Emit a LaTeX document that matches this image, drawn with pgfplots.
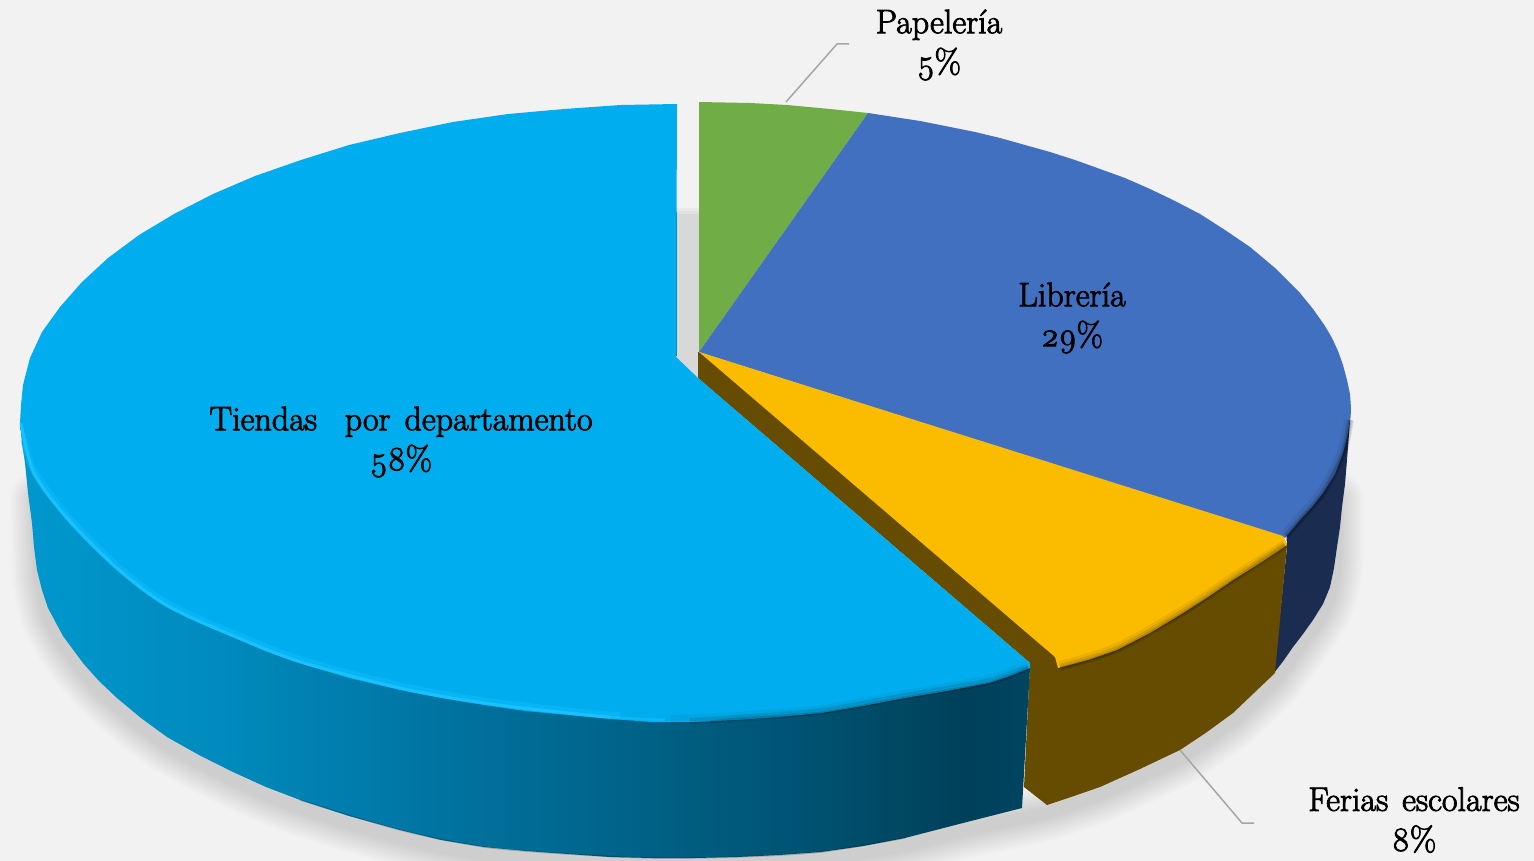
\documentclass[border=0pt]{standalone}
\usepackage{fontspec}
\setmainfont{Latin Modern Roman}[Numbers=OldStyle,FakeBold=2.5,WordSpace=1.35]
\usepackage{pgfplots}
\pgfplotsset{compat=1.18}
\definecolor{bgc}{HTML}{F2F2F2}
\definecolor{topblue}{HTML}{00AEEF}
\definecolor{bright}{HTML}{18C2FF}
\definecolor{lib}{HTML}{4270C0}
\definecolor{navy}{HTML}{1A2C50}
\definecolor{yel}{HTML}{FBBC00}
\definecolor{brown}{HTML}{654C00}
\definecolor{grn}{HTML}{70AD47}
\definecolor{gapc}{HTML}{D8D8D8}
\definecolor{leader}{HTML}{A6A6A6}
\definecolor{sa}{HTML}{0098CE}
\definecolor{sb}{HTML}{008ABD}
\definecolor{sc}{HTML}{0075A3}
\definecolor{sd}{HTML}{006389}
\definecolor{se}{HTML}{00506F}
\definecolor{sf}{HTML}{004059}
\definecolor{sg}{HTML}{004563}
\definecolor{edge}{HTML}{008FC4}
\pgfdeclarehorizontalshading{blueside}{100bp}{
 color(0bp)=(sa);
 color(25bp)=(sa);
 color(35bp)=(sb);
 color(45bp)=(sc);
 color(55bp)=(sd);
 color(65bp)=(se);
 color(72bp)=(sf);
 color(75bp)=(sg);
 color(100bp)=(sg)}
\pgfplotstableread{
x y
38 500
40 578
48 616
63 644
83 671
99 689
117 706
141 726
167 745
199 763
233 780
266 795
300 808
349 824
400 838
441 848
484 855
526 859
568 862
610 865
652 866
695 866
737 865
779 863
821 860
863 854
905 846
963 831
1047 813
1074 804
1100 795
1140 777
1180 758
1207 740
1233 721
1254 701
1275 681
1293 655
1313 628
1323 612
1330 595
1334 576
1336 555
1336 500
700 400
}\shadowdata
\pgfplotsset{shadowlayer/.style={draw=black,fill=none,draw opacity=0.012,line width=#1,line join=round}}
\begin{document}
\begin{tikzpicture}
\begin{axis}[
 width=1534pt,height=861pt,scale only axis,
 xmin=0,xmax=1534,ymin=0,ymax=861,y dir=reverse,
 axis lines=none,no markers,clip=true,
 axis background/.style={fill=bgc},
 every axis plot/.append style={line join=round},
]
% soft shadow
\addplot[shadowlayer=56pt] table {\shadowdata} --cycle;
\addplot[shadowlayer=52pt] table {\shadowdata} --cycle;
\addplot[shadowlayer=48pt] table {\shadowdata} --cycle;
\addplot[shadowlayer=44pt] table {\shadowdata} --cycle;
\addplot[shadowlayer=40pt] table {\shadowdata} --cycle;
\addplot[shadowlayer=36pt] table {\shadowdata} --cycle;
\addplot[shadowlayer=32pt] table {\shadowdata} --cycle;
\addplot[shadowlayer=28pt] table {\shadowdata} --cycle;
\addplot[shadowlayer=24pt] table {\shadowdata} --cycle;
\addplot[shadowlayer=20pt] table {\shadowdata} --cycle;
\addplot[shadowlayer=16pt] table {\shadowdata} --cycle;
\addplot[shadowlayer=12pt] table {\shadowdata} --cycle;
% gap between the exploded slice and the rest
\addplot[fill=gapc,draw=none] coordinates {(676,214)(700,214)(700,380)(676,360)} --cycle;
\addplot[fill=gapc!66!bgc,draw=none] coordinates {(676,211)(700,211)(700,214)(676,214)} --cycle;
\addplot[fill=gapc!33!bgc,draw=none] coordinates {(676,208)(700,208)(700,211)(676,211)} --cycle;
% side faces
\addplot[fill=navy,draw=none] coordinates {(1351,408)(1349,434)(1347,460)(1345,484)(1342,507)(1340,527)(1337,547)(1334,568)(1330,587)(1323,604)(1313,620)(1303,634)(1293,647)(1284,660)(1274,673)(1287,547)(1285,500)} --cycle;
\addplot[fill=brown,draw=none] coordinates {(698,378)(698,352)(1283,537)(1287,545)(1275,673)(1254,693)(1233,713)(1207,732)(1180,750)(1140,769)(1100,787)(1074,796)(1047,805)(1024,787)(1030,663)} --cycle;
\addplot[shading=blueside,draw=none] coordinates {(20,423)(22,443)(25,463)(28,493)(32,523)(34,547)(37,570)(42,590)(48,608)(63,636)(83,663)(99,681)(117,698)(141,718)(167,737)(199,755)(233,772)(266,787)(300,800)(349,816)(400,830)(441,840)(484,847)(526,851)(568,854)(610,857)(652,858)(695,858)(737,857)(779,855)(821,852)(863,846)(905,838)(963,823)(1022,808)(1030,668)(400,500)} --cycle;
\addplot[black,opacity=0.18,line width=1.5pt,smooth] coordinates {(300,800)(400,830)(484,847)(568,854)(652,858)(737,857)(821,852)(905,838)};
% top faces
\addplot[fill=grn,draw=none] coordinates {(699,102)(750,103)(787,105)(830,109)(868,113)(699,352)} --cycle;
\addplot[fill=lib,draw=none] coordinates {(868,113)(894,117)(920,121)(950,127)(975,132)(1000,138)(1025,145)(1050,152)(1075,160)(1100,169)(1125,178)(1150,189)(1175,201)(1200,214)(1225,230)(1250,247)(1275,268)(1300,293)(1313,309)(1325,326)(1332,338)(1338,351)(1343,365)(1347,380)(1350,394)(1351,408)(1350,420)(1347,437)(1343,453)(1335,474)(1323,493)(1312,507)(1300,520)(1285,538)(1283,537)(699,352)} --cycle;
\addplot[fill=yel,draw=none] coordinates {(699,352)(1283,536)(1287,545)(1260,563)(1233,580)(1208,597)(1183,613)(1150,633)(1117,650)(1088,660)(1058,668)(1055,657)} --cycle;
\addplot[fill=topblue,draw=none] coordinates {(677,104)(621,105)(564,109)(508,114)(453,122)(400,133)(349,145)(301,160)(255,176)(213,194)(174,214)(139,235)(108,258)(82,282)(60,307)(42,332)(30,358)(23,385)(21,405)(20,423)(24,450)(33,473)(48,497)(67,520)(91,546)(117,570)(141,590)(167,607)(199,623)(233,637)(265,651)(300,663)(349,678)(400,690)(441,698)(484,705)(525,711)(568,715)(610,719)(652,722)(695,722)(737,720)(779,717)(821,713)(863,706)(905,698)(947,691)(989,683)(1010,676)(1030,668)(1030,663)(698,378)(676,357)} --cycle;
% bevels
\addplot[bright,opacity=0.35,line width=7pt,smooth] coordinates {(24,440)(34,471)(68,517)(118,567)(168,604)(234,634)(301,660)(400,686)(484,701)(568,711)(620,716)};
\addplot[bright,line width=3pt,smooth] coordinates {(21,423)(34,473)(68,519)(118,569)(168,606)(234,636)(301,662)(400,688)(484,703)(568,713)(610,717)};
\addplot[bright,opacity=0.5,line width=2.5pt,smooth] coordinates {(610,717)(640,719)(665,720)};
\addplot[black,opacity=0.05,line width=10pt,smooth] coordinates {(670,720)(737,717)(821,710)(905,695)(989,680)(1028,666)};
\addplot[black,opacity=0.10,line width=6pt,smooth] coordinates {(690,721)(737,718)(821,711)(905,696)(989,681)(1028,667)};
\addplot[black,opacity=0.14,line width=3pt,smooth] coordinates {(710,722)(737,719)(821,713)(905,698)(989,683)(1028,668)};
\addplot[black,opacity=0.07,line width=10pt,smooth] coordinates {(1349,420)(1342,452)(1322,492)(1299,519)(1285,535)};
\addplot[black,opacity=0.10,line width=6pt,smooth] coordinates {(1350,420)(1343,453)(1323,493)(1300,520)(1286,536)};
\addplot[black,opacity=0.14,line width=3pt,smooth] coordinates {(1350,420)(1343,453)(1323,493)(1300,520)(1286,537)};
\addplot[black,opacity=0.07,line width=10pt,smooth] coordinates {(1285,545)(1233,578)(1183,611)(1117,648)(1060,666)};
\addplot[black,opacity=0.10,line width=6pt,smooth] coordinates {(1285,545)(1233,579)(1183,612)(1117,649)(1060,667)};
\addplot[black,opacity=0.14,line width=3pt,smooth] coordinates {(1285,545)(1233,580)(1183,613)(1117,650)(1060,668)};
\addplot[edge,line width=1pt] coordinates {(676,212)(676,356)};
% leader lines
\addplot[leader,line width=1.5pt] coordinates {(786,102)(837,44)(849,44)};
\addplot[leader,line width=1.5pt] coordinates {(1180,750)(1242,823)(1254,823)};
% labels
\node[font=\fontsize{34}{40}\selectfont,align=center] at (axis cs:939,45) {Papelería\\5\%};
\node[font=\fontsize{34}{40}\selectfont,align=center] at (axis cs:1072,318) {Librería\\29\%};
\node[font=\fontsize{34}{40}\selectfont,align=center] at (axis cs:401,442) {Tiendas\ \ por departamento\\58\%};
\node[font=\fontsize{34}{40}\selectfont,align=center] at (axis cs:1414,820) {Ferias escolares\\8\%};
\end{axis}
\end{tikzpicture}
\end{document}
